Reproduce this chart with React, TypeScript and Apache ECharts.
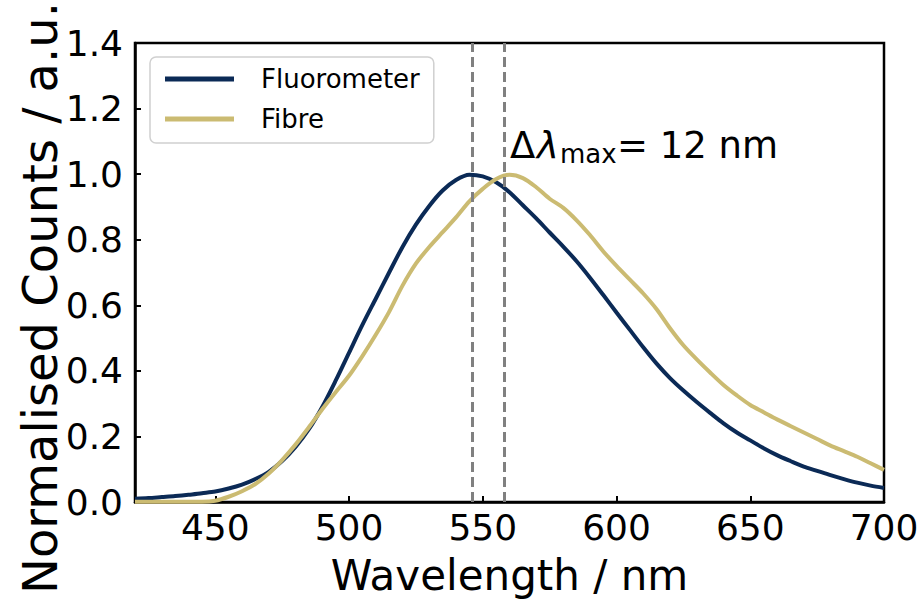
import React, { useEffect, useRef } from "react";
import * as echarts from "echarts";

const wavelengths = [
  420, 425, 430, 435, 440, 445, 450, 455, 460, 465, 470, 475, 480, 485, 490, 495, 500,
  505, 510, 515, 520, 525, 530, 535, 540, 545, 550, 555, 560, 565, 570, 575, 580, 585,
  590, 595, 600, 605, 610, 615, 620, 625, 630, 635, 640, 645, 650, 655, 660, 665, 670,
  675, 680, 685, 690, 695, 700,
];

const fluorometer = [
  0.010, 0.012, 0.015, 0.018, 0.022, 0.027, 0.032, 0.041, 0.053, 0.070, 0.092, 0.125, 0.168,
  0.222, 0.290, 0.370, 0.455, 0.540, 0.620, 0.700, 0.778, 0.846, 0.903, 0.950, 0.982, 0.998,
  0.993, 0.975, 0.945, 0.905, 0.865, 0.822, 0.780, 0.735, 0.685, 0.632, 0.578, 0.525, 0.472,
  0.422, 0.378, 0.340, 0.305, 0.272, 0.240, 0.212, 0.188, 0.164, 0.143, 0.125, 0.108, 0.095,
  0.082, 0.070, 0.059, 0.050, 0.043,
];

const fibre = [
  0.001, 0.001, 0.001, 0.001, 0.001, 0.001, 0.004, 0.016, 0.033, 0.055, 0.087, 0.128, 0.175,
  0.228, 0.283, 0.335, 0.385, 0.445, 0.510, 0.580, 0.660, 0.727, 0.778, 0.823, 0.868, 0.917,
  0.955, 0.985, 0.998, 0.988, 0.960, 0.925, 0.898, 0.860, 0.815, 0.765, 0.720, 0.678, 0.636,
  0.588, 0.530, 0.478, 0.435, 0.395, 0.357, 0.325, 0.296, 0.274, 0.252, 0.232, 0.212, 0.192,
  0.172, 0.155, 0.138, 0.118, 0.098,
];

const peakLines = [546, 558];
const xTicks = [450, 500, 550, 600, 650, 700];

const NAVY = "#0b2a56";
const GOLD = "#cbbb72";
const FONT = "DejaVu Sans";

export default function App() {
  const ref = useRef<HTMLDivElement>(null);

  useEffect(() => {
    if (!ref.current) return;
    const chart = echarts.init(ref.current, null, { renderer: "svg" });
    const pairs = (ys: number[]) => wavelengths.map((w, i) => [w, ys[i]]);

    chart.setOption({
      animation: false,
      backgroundColor: "#ffffff",
      textStyle: { fontFamily: FONT },
      grid: {
        left: 135,
        right: 38,
        top: 43,
        bottom: 97,
        show: true,
        borderColor: "#000",
        borderWidth: 2.5,
        backgroundColor: "transparent",
      },
      legend: {
        orient: "vertical",
        left: 150,
        top: 57,
        padding: [7, 14, 9, 15],
        backgroundColor: "#fff",
        borderColor: "#d0d0d0",
        borderWidth: 1.5,
        borderRadius: 6,
        itemWidth: 69,
        itemHeight: 5,
        itemGap: 10,
        icon: "rect",
        textStyle: {
          fontFamily: FONT,
          fontSize: 26,
          color: "#000",
          lineHeight: 30,
          padding: [0, 0, 0, 22],
        },
        data: ["Fluorometer", "Fibre"],
      },
      xAxis: {
        type: "value",
        min: 420,
        max: 700,
        name: "Wavelength / nm",
        nameLocation: "middle",
        nameGap: 52,
        nameTextStyle: { fontFamily: FONT, fontSize: 42, color: "#000" },
        axisLine: { show: true, lineStyle: { color: "#000", width: 2.5 } },
        axisTick: {
          show: true,
          inside: true,
          length: 6,
          customValues: xTicks,
          lineStyle: { color: "#000", width: 2 },
        },
        axisLabel: {
          show: true,
          customValues: xTicks,
          fontFamily: FONT,
          fontSize: 36,
          color: "#000",
          margin: 7,
        },
        splitLine: { show: false },
      },
      yAxis: {
        type: "value",
        min: 0,
        max: 1.4,
        interval: 0.2,
        axisLine: { show: true, lineStyle: { color: "#000", width: 2.5 } },
        axisTick: { show: true, inside: true, length: 6, lineStyle: { color: "#000", width: 2 } },
        axisLabel: {
          fontFamily: FONT,
          fontSize: 36,
          color: "#000",
          margin: 12,
          formatter: (v: number) => v.toFixed(1),
        },
        splitLine: { show: false },
      },
      graphic: [
        {
          type: "text",
          x: 40,
          y: 298,
          rotation: Math.PI / 2,
          style: {
            text: "Normalised Counts / a.u.",
            fontFamily: FONT,
            fontSize: 48,
            fill: "#000",
            align: "center",
            verticalAlign: "middle",
          },
        },
        {
          type: "text",
          x: 510,
          y: 145.5,
          style: { text: "Δ", fontFamily: FONT, fontSize: 37, fill: "#000", align: "left", verticalAlign: "middle" },
        },
        {
          type: "text",
          x: 537,
          y: 145.5,
          style: {
            text: "λ",
            fontFamily: FONT,
            fontStyle: "italic",
            fontSize: 37,
            fill: "#000",
            align: "left",
            verticalAlign: "middle",
          },
        },
        {
          type: "text",
          x: 560,
          y: 154,
          style: { text: "max", fontFamily: FONT, fontSize: 26, fill: "#000", align: "left", verticalAlign: "middle" },
        },
        {
          type: "text",
          x: 617,
          y: 145.5,
          style: { text: "= 12 nm", fontFamily: FONT, fontSize: 37, fill: "#000", align: "left", verticalAlign: "middle" },
        },
      ],
      series: [
        {
          name: "Fluorometer",
          type: "line",
          data: pairs(fluorometer),
          showSymbol: false,
          smooth: 0.3,
          color: NAVY,
          lineStyle: { color: NAVY, width: 4 },
          z: 2,
        },
        {
          name: "Fibre",
          type: "line",
          data: pairs(fibre),
          showSymbol: false,
          smooth: 0.3,
          color: GOLD,
          lineStyle: { color: GOLD, width: 4 },
          z: 3,
          markLine: {
            silent: true,
            symbol: "none",
            label: { show: false },
            lineStyle: { color: "#808080", width: 3, type: [10, 5] },
            data: peakLines.map((v) => ({ xAxis: v })),
            z: 5,
          },
        },
      ],
    });

    return () => chart.dispose();
  }, []);

  return (
    <div
      ref={ref}
      style={{ position: "fixed", left: 0, top: 0, width: 922, height: 601, background: "#fff" }}
    />
  );
}
